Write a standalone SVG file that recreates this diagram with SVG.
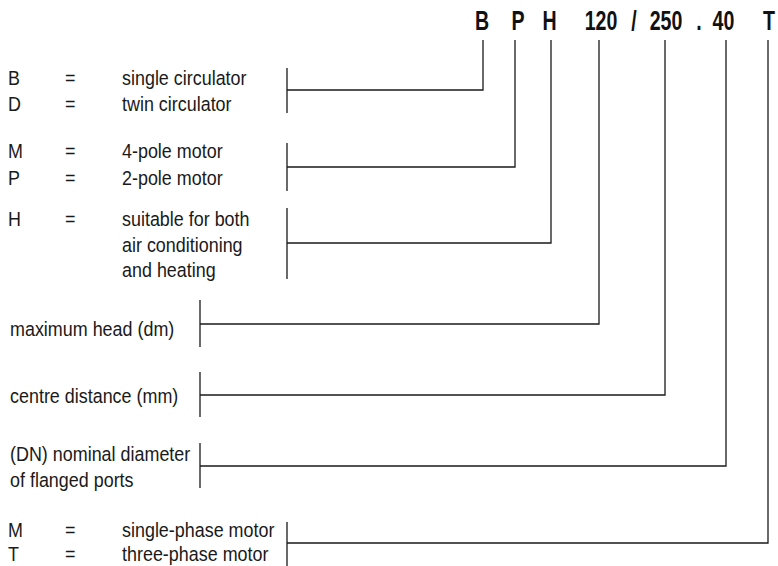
<svg xmlns="http://www.w3.org/2000/svg" width="778" height="566" viewBox="0 0 778 566">
<style>
.code{font-family:"Liberation Sans",Arial,sans-serif;font-weight:bold;font-size:28px;fill:#111;text-anchor:middle}
.lbl{font-family:"Liberation Sans",Arial,sans-serif;font-size:19.5px;fill:#1a1a1a}
.ln{fill:none;stroke:#1a1a1a;stroke-width:1.3}
</style>
<rect width="778" height="566" fill="#fff"/>
<g id="code">
<text class="code" transform="translate(482,30) scale(0.7,1)">B</text>
<text class="code" transform="translate(518,30) scale(0.7,1)">P</text>
<text class="code" transform="translate(549.5,30) scale(0.7,1)">H</text>
<text class="code" transform="translate(601,30) scale(0.7,1)">120</text>
<text class="code" transform="translate(634,30) scale(0.7,1)">/</text>
<text class="code" transform="translate(666,30) scale(0.7,1)">250</text>
<text class="code" transform="translate(699,30) scale(0.7,1)">.</text>
<text class="code" transform="translate(723.5,30) scale(0.7,1)">40</text>
<text class="code" transform="translate(769,30) scale(0.7,1)">T</text>
</g>
<g id="node-B">
<text class="lbl" transform="translate(8,85) scale(0.92,1)">B</text><text class="lbl" transform="translate(65,85) scale(0.92,1)">=</text><text class="lbl" transform="translate(122,85) scale(0.92,1)">single circulator</text>
<text class="lbl" transform="translate(8,111) scale(0.92,1)">D</text><text class="lbl" transform="translate(65,111) scale(0.92,1)">=</text><text class="lbl" transform="translate(122,111) scale(0.92,1)">twin circulator</text>
<line class="ln" x1="287" y1="68" x2="287" y2="113"/>
</g>
<g id="node-P">
<text class="lbl" transform="translate(8,158) scale(0.92,1)">M</text><text class="lbl" transform="translate(65,158) scale(0.92,1)">=</text><text class="lbl" transform="translate(122,158) scale(0.92,1)">4-pole motor</text>
<text class="lbl" transform="translate(8,185) scale(0.92,1)">P</text><text class="lbl" transform="translate(65,185) scale(0.92,1)">=</text><text class="lbl" transform="translate(122,185) scale(0.92,1)">2-pole motor</text>
<line class="ln" x1="287" y1="143" x2="287" y2="191"/>
</g>
<g id="node-H">
<text class="lbl" transform="translate(8,226) scale(0.92,1)">H</text><text class="lbl" transform="translate(65,226) scale(0.92,1)">=</text><text class="lbl" transform="translate(122,226) scale(0.92,1)">suitable for both</text>
<text class="lbl" transform="translate(122,252) scale(0.92,1)">air conditioning</text>
<text class="lbl" transform="translate(122,277) scale(0.92,1)">and heating</text>
<line class="ln" x1="287" y1="208" x2="287" y2="279"/>
</g>
<g id="node-head">
<text class="lbl" transform="translate(10,336) scale(0.92,1)">maximum head (dm)</text>
<line class="ln" x1="200" y1="300" x2="200" y2="347"/>
</g>
<g id="node-centre">
<text class="lbl" transform="translate(10,403) scale(0.92,1)">centre distance (mm)</text>
<line class="ln" x1="200" y1="372" x2="200" y2="417"/>
</g>
<g id="node-DN">
<text class="lbl" transform="translate(10,461) scale(0.92,1)">(DN) nominal diameter</text>
<text class="lbl" transform="translate(10,487) scale(0.92,1)">of flanged ports</text>
<line class="ln" x1="200" y1="443" x2="200" y2="488"/>
</g>
<g id="node-T">
<text class="lbl" transform="translate(8,537) scale(0.92,1)">M</text><text class="lbl" transform="translate(65,537) scale(0.92,1)">=</text><text class="lbl" transform="translate(122,537) scale(0.92,1)">single-phase motor</text>
<text class="lbl" transform="translate(8,561) scale(0.92,1)">T</text><text class="lbl" transform="translate(65,561) scale(0.92,1)">=</text><text class="lbl" transform="translate(122,561) scale(0.92,1)">three-phase motor</text>
<line class="ln" x1="287" y1="522" x2="287" y2="566"/>
</g>
<g id="connectors">
<polyline class="ln" points="287,90 483,90 483,40"/>
<polyline class="ln" points="287,167 515,167 515,40"/>
<polyline class="ln" points="287,243 551,243 551,40"/>
<polyline class="ln" points="200,324 599,324 599,40"/>
<polyline class="ln" points="200,395 665,395 665,40"/>
<polyline class="ln" points="200,466 726,466 726,40"/>
<polyline class="ln" points="287,543 768,543 768,40"/>
</g>
</svg>
